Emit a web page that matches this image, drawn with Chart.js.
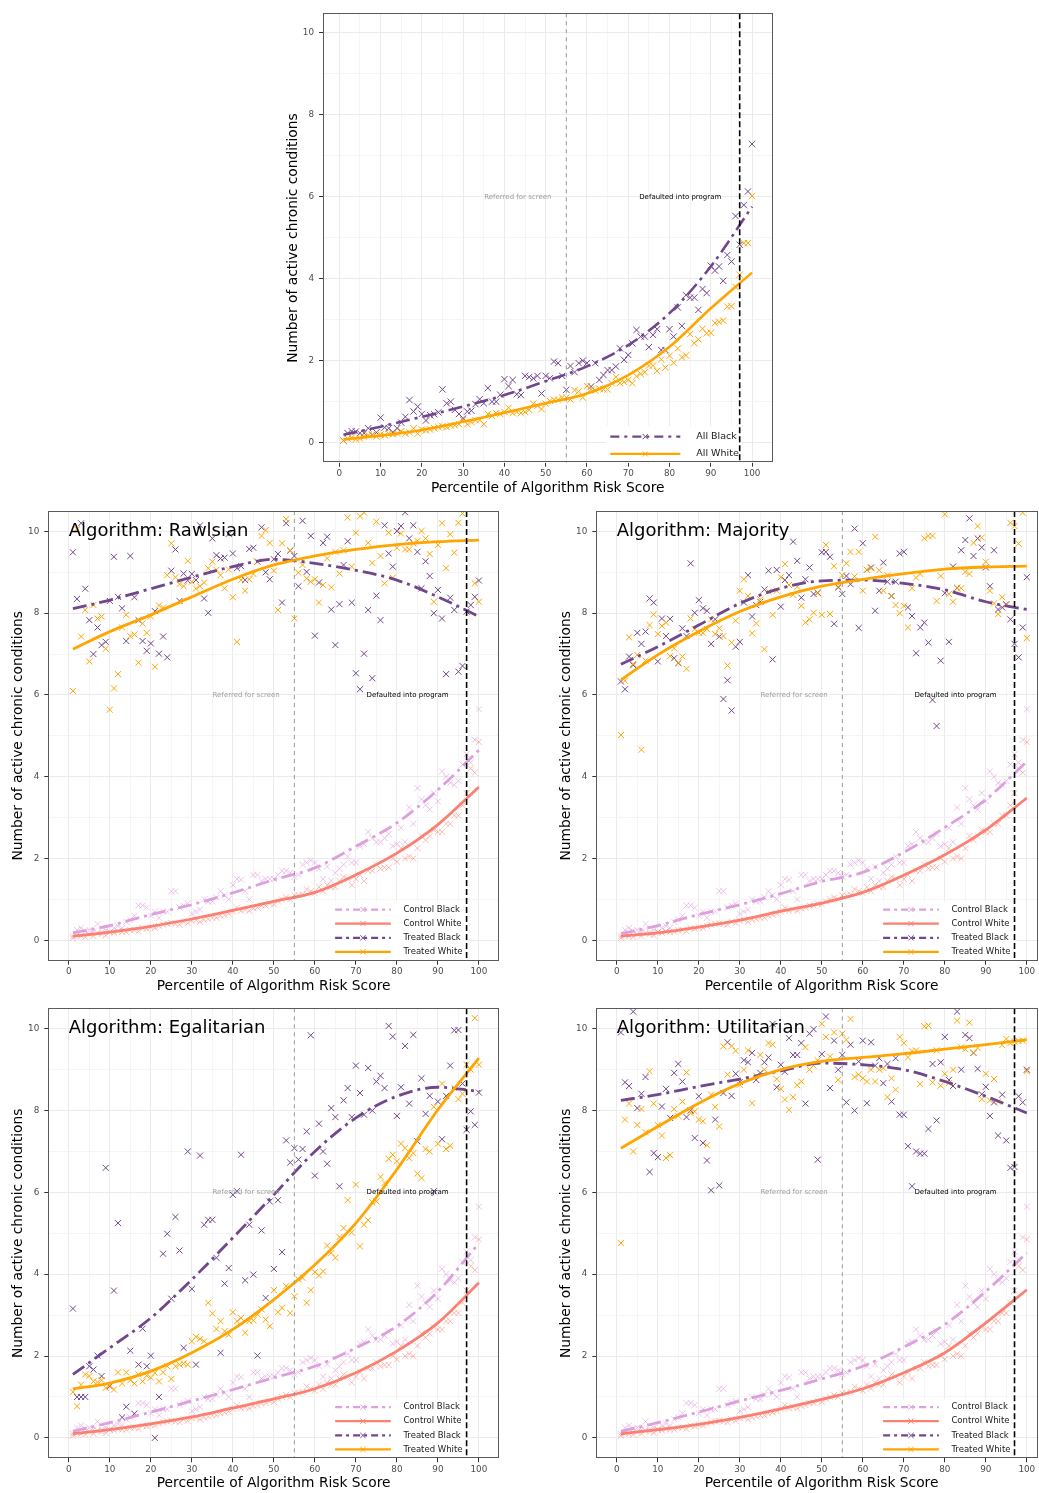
<!DOCTYPE html>
<html>
<head>
<meta charset="utf-8">
<script src="https://cdn.jsdelivr.net/npm/chart.js@4.4.1/dist/chart.umd.min.js"></script>
<style>
  html, body { margin: 0; padding: 0; background: #ffffff; }
  body { width: 1039px; height: 1493px; position: relative; overflow: hidden; }
  canvas { position: absolute; }
</style>
</head>
<body>
<canvas id="pAll" width="520" height="500" style="left:270px;top:0px"></canvas>
<canvas id="pRawls" width="510" height="500" style="left:0px;top:500px"></canvas>
<canvas id="pMaj" width="491" height="500" style="left:548px;top:500px"></canvas>
<canvas id="pEgal" width="510" height="496" style="left:0px;top:997px"></canvas>
<canvas id="pUtil" width="491" height="496" style="left:548px;top:997px"></canvas>
<script>
// ---------------------------------------------------------------------------
// Data: mean number of active chronic conditions by risk-score percentile
// ---------------------------------------------------------------------------
const PERCENTILES = [
  1,2,3,4,5,6,7,8,9,10, 11,12,13,14,15,16,17,18,19,20,
  21,22,23,24,25,26,27,28,29,30, 31,32,33,34,35,36,37,38,39,40,
  41,42,43,44,45,46,47,48,49,50, 51,52,53,54,55,56,57,58,59,60,
  61,62,63,64,65,66,67,68,69,70, 71,72,73,74,75,76,77,78,79,80,
  81,82,83,84,85,86,87,88,89,90, 91,92,93,94,95,96,97,98,99,100
];

const X_TICKS = [0,5,10,15,20,25,30,35,40,45,50,55,60,65,70,75,80,85,90,95,100];
const Y_TICKS = [0,1,2,3,4,5,6,7,8,9,10];

const SCREEN_CUTOFF = 55;   // referred for screening above this percentile
const PROGRAM_CUTOFF = 97;  // defaulted into program above this percentile

// whole population
const ALL_BLACK = [
  0.05,0.23,0.28,0.27,0.23,0.23,0.35,0.19,0.25,0.61,
  0.37,0.35,0.25,0.35,0.49,0.63,1.04,0.76,0.88,0.70,
  0.54,0.67,0.69,0.74,1.30,0.96,1.00,0.80,0.70,0.59,
  0.76,0.78,0.94,1.06,0.96,1.33,1.00,1.00,1.17,1.55,
  1.38,1.53,1.18,1.16,1.63,1.60,1.57,1.63,1.20,1.63,
  1.57,1.98,1.94,1.63,1.29,1.87,1.72,1.94,2.00,1.94,
  1.37,1.94,1.53,1.65,1.77,1.77,1.86,2.30,2.02,2.14,
  2.42,2.75,2.59,2.59,2.33,2.63,2.77,2.26,2.26,2.77,
  2.59,3.30,2.85,3.60,3.54,3.54,3.24,3.75,3.65,4.32,
  4.20,4.30,3.95,4.58,4.42,5.53,4.83,5.80,6.13,7.29
];
const ALL_WHITE = [
  0.05,0.10,0.12,0.08,0.10,0.15,0.18,0.20,0.15,0.20,
  0.18,0.22,0.20,0.22,0.28,0.22,0.25,0.35,0.22,0.32,
  0.30,0.32,0.35,0.38,0.40,0.38,0.42,0.42,0.45,0.55,
  0.45,0.50,0.55,0.55,0.45,0.70,0.65,0.72,0.70,0.75,
  0.85,0.72,0.75,0.72,0.75,0.80,0.95,0.90,0.82,0.95,
  1.02,1.05,1.05,1.10,1.10,1.05,1.28,1.25,1.10,1.38,
  1.30,1.27,1.32,1.30,1.30,1.45,1.60,1.45,1.48,1.53,
  1.45,1.62,1.68,1.72,1.88,1.88,1.75,2.03,1.83,2.12,
  1.95,2.30,2.08,2.13,2.65,2.43,2.52,2.78,2.67,2.68,
  2.92,2.95,2.98,3.32,3.33,3.80,4.10,4.87,4.87,6.02
];

// control arm (not enrolled)
const CONTROL_BLACK = [
  0.10,0.25,0.30,0.22,0.25,0.20,0.40,0.20,0.25,0.20,
  0.30,0.35,0.30,0.45,0.50,0.60,0.85,0.85,0.80,0.60,
  0.70,0.55,0.70,0.70,1.20,1.20,0.80,0.85,0.90,0.65,
  0.70,0.75,1.00,0.95,0.95,1.05,1.20,1.10,1.00,1.35,
  1.50,1.48,1.20,1.00,1.60,1.60,1.45,1.50,1.50,1.50,
  1.60,1.70,1.70,1.65,1.55,1.60,1.85,1.90,1.95,1.90,
  1.75,1.50,1.80,1.45,1.65,1.75,1.85,2.05,1.90,1.90,
  2.30,2.35,2.65,2.50,2.40,2.40,2.50,2.60,2.30,2.35,
  2.75,2.40,3.25,2.85,3.72,3.45,3.30,3.20,3.60,3.40,
  4.13,4.00,3.85,3.80,3.90,4.30,4.55,4.35,4.90,5.65
];
const CONTROL_WHITE = [
  0.05,0.12,0.10,0.08,0.15,0.10,0.18,0.15,0.12,0.20,
  0.18,0.22,0.20,0.20,0.25,0.25,0.22,0.30,0.28,0.32,
  0.30,0.35,0.38,0.40,0.42,0.40,0.38,0.45,0.42,0.48,
  0.50,0.45,0.50,0.52,0.55,0.55,0.60,0.62,0.65,0.70,
  0.80,0.72,0.75,0.72,0.78,0.80,0.85,0.85,0.90,0.88,
  0.95,1.00,1.05,1.00,1.10,1.10,1.12,1.25,1.20,1.15,
  1.30,1.20,1.35,1.30,1.30,1.45,1.55,1.50,1.35,1.50,
  1.60,1.45,1.70,1.70,1.85,1.75,1.78,1.78,2.00,1.92,
  2.25,2.00,2.05,2.00,2.25,2.55,2.45,2.55,2.70,2.65,
  2.65,2.85,2.85,3.05,3.05,3.30,3.60,4.20,4.10,4.85
];

// treated arm, by allocation algorithm
const RAWLS_TREATED_BLACK = [
  9.49,8.35,10.20,8.60,7.83,7.00,7.65,7.22,7.30,8.30,
  9.38,8.40,8.12,7.32,9.40,8.39,7.83,7.32,7.08,7.26,
  8.05,7.01,7.43,6.92,9.04,9.56,8.30,8.97,8.80,8.96,
  8.81,10.15,8.36,8.01,9.83,9.42,9.34,9.36,9.94,9.46,
  9.10,9.15,8.81,9.57,9.60,9.26,10.10,9.00,8.83,9.32,
  9.45,8.26,10.20,9.53,9.40,8.66,10.26,9.01,9.89,7.45,
  8.75,9.72,9.87,8.09,7.22,8.22,9.18,9.76,8.26,6.53,
  6.14,7.01,8.08,6.41,8.43,7.83,10.15,9.46,9.14,10.01,
  10.13,10.47,9.83,10.15,9.50,8.61,9.27,8.91,8.00,8.57,
  7.87,6.51,8.38,8.08,6.57,6.71,8.04,8.20,8.40,8.80
];
const RAWLS_TREATED_WHITE = [
  6.10,10.05,7.43,8.08,6.82,8.20,7.87,7.92,7.13,5.64,
  6.16,6.51,7.65,7.96,7.44,7.48,6.79,7.75,7.52,7.92,
  6.69,8.19,8.14,8.93,9.71,8.88,8.71,8.66,9.28,8.77,
  8.60,8.66,8.75,9.10,9.26,9.06,8.93,8.61,9.07,8.39,
  7.30,8.81,8.55,8.83,8.96,9.26,9.89,10.03,9.72,9.04,
  8.08,9.71,10.30,9.54,7.87,8.99,9.18,8.85,8.77,8.83,
  8.26,8.69,9.34,8.63,9.50,8.97,9.54,10.34,9.14,9.97,
  10.37,10.46,9.72,9.23,10.24,9.40,8.73,9.97,8.87,9.60,
  9.95,9.56,9.56,9.71,9.77,10.01,9.83,9.45,8.28,9.67,
  10.20,9.10,9.93,9.48,10.21,10.44,10.80,10.90,8.73,8.28
];
const MAJORITY_TREATED_BLACK = [
  6.33,6.14,6.94,6.73,7.52,7.25,7.55,8.36,8.26,6.82,
  7.87,7.44,7.86,6.90,6.78,7.63,7.44,9.22,8.01,8.32,
  8.12,8.06,7.25,7.85,7.43,5.90,6.36,5.62,7.18,7.30,
  8.26,8.93,7.92,8.20,8.28,8.58,9.04,6.87,9.06,8.16,
  8.81,8.93,9.75,9.28,8.38,8.83,9.12,8.47,8.50,9.49,
  9.50,9.38,7.74,8.63,8.47,8.91,8.71,10.07,7.64,9.71,
  9.06,9.12,8.06,8.55,9.24,8.77,8.42,8.77,9.46,9.50,
  8.14,7.93,7.02,7.65,7.77,7.28,5.88,5.24,6.84,8.49,
  7.30,9.14,8.62,9.54,9.79,10.32,9.40,9.83,9.61,9.12,
  8.66,9.54,8.09,8.14,8.22,7.85,7.25,6.92,7.65,8.88
];
const MAJORITY_TREATED_WHITE = [
  5.02,6.35,7.41,6.76,6.98,4.66,6.84,7.71,7.97,7.49,
  7.69,7.77,6.95,7.14,6.79,6.94,6.64,7.87,7.61,7.52,
  7.52,7.61,7.85,7.49,7.63,7.44,6.72,7.28,7.82,8.55,
  8.83,8.42,7.51,7.75,8.34,7.12,8.53,7.96,8.55,8.88,
  9.20,8.69,8.45,8.65,8.18,7.77,7.85,8.01,8.49,7.96,
  9.67,7.98,9.15,8.65,8.93,9.22,9.50,8.90,9.50,8.55,
  9.06,9.10,9.87,9.05,8.55,8.93,8.42,8.20,8.00,8.18,
  7.65,8.61,8.87,8.96,9.83,9.89,9.89,8.30,8.91,10.42,
  8.47,8.28,8.61,8.61,9.01,8.96,9.72,10.13,9.85,9.26,
  8.55,8.24,7.98,8.39,8.20,10.21,10.13,9.70,10.46,7.39
];
const EGAL_TREATED_BLACK = [
  3.16,1.00,1.00,1.00,1.75,1.67,2.01,1.51,6.60,1.26,
  3.60,5.25,0.50,0.76,2.13,0.59,1.79,2.67,1.75,2.01,
  0.00,1.00,4.50,4.99,3.40,5.40,4.58,2.20,7.00,3.64,
  1.79,6.90,5.21,5.33,5.33,4.40,2.08,3.77,4.15,5.94,
  6.03,6.92,3.85,5.21,3.99,2.01,5.07,3.42,5.78,4.13,
  5.81,4.54,7.27,6.73,7.08,6.80,7.06,7.49,9.84,6.41,
  7.68,7.00,6.70,8.06,7.84,6.15,8.25,8.55,7.84,9.10,
  8.43,7.90,9.04,8.00,8.71,8.85,8.55,10.07,9.81,7.87,
  8.57,9.58,8.17,9.85,7.25,8.79,7.92,8.36,6.03,8.22,
  7.30,8.36,9.10,9.96,9.97,8.66,7.53,7.98,7.65,8.44
];
const EGAL_TREATED_WHITE = [
  1.12,0.77,1.30,1.55,1.51,1.38,1.36,1.41,1.22,1.28,
  1.18,1.60,1.33,1.60,1.41,1.33,1.55,1.38,1.52,1.47,
  1.59,1.38,1.60,1.75,1.44,1.75,1.79,1.82,1.79,2.36,
  2.47,2.42,2.36,3.30,3.04,2.66,2.85,2.61,2.52,3.07,
  2.85,2.93,2.57,2.85,2.87,3.01,3.14,2.89,2.73,3.61,
  3.07,3.18,3.71,3.05,3.46,3.87,3.91,3.30,3.61,4.05,
  3.97,4.07,4.70,4.52,4.40,4.91,5.13,5.81,5.02,6.19,
  4.68,5.21,5.32,5.76,5.78,6.38,6.23,6.82,6.92,6.76,
  7.19,7.08,6.84,6.96,6.46,6.35,7.06,7.00,8.09,7.19,
  8.66,7.06,7.14,8.55,8.28,8.41,9.12,9.00,10.26,9.12
];
const UTIL_TREATED_BLACK = [
  9.91,8.69,8.60,10.42,8.06,8.41,8.82,6.50,6.96,6.86,
  8.10,8.53,7.82,8.92,9.14,8.71,7.84,8.00,7.33,8.35,
  7.21,6.78,6.05,7.78,6.17,8.43,9.67,8.36,8.90,8.70,
  9.23,9.18,9.41,8.75,8.92,9.18,9.30,10.12,8.57,9.12,
  8.95,9.77,9.36,9.36,9.65,8.17,9.88,9.99,6.80,9.38,
  10.30,8.55,9.71,9.00,9.36,8.20,9.61,8.00,9.20,9.71,
  8.18,9.67,9.10,9.28,8.67,9.14,8.22,9.28,7.90,7.90,
  7.13,6.15,7.00,6.95,6.95,7.55,9.14,7.76,9.18,9.80,
  8.75,8.60,10.42,9.00,9.85,9.77,9.41,9.02,8.40,8.58,
  7.87,8.20,7.39,8.39,7.27,6.60,6.62,8.35,8.20,9.00
];
const UTIL_TREATED_WHITE = [
  4.76,7.78,8.17,7.00,7.65,8.04,7.47,8.96,8.17,7.65,
  7.39,6.84,6.91,8.04,7.87,8.22,8.93,7.94,7.98,7.78,
  7.74,7.15,8.39,8.09,7.61,9.57,8.88,9.58,9.46,8.63,
  9.00,9.47,8.18,8.85,9.36,9.00,9.65,9.61,8.77,8.53,
  8.27,8.02,8.33,8.62,8.71,9.55,9.00,9.10,9.23,10.12,
  9.80,9.32,9.91,8.75,9.88,9.73,10.24,8.82,8.88,8.79,
  8.71,9.00,8.71,9.00,9.04,8.33,8.79,8.51,9.80,9.65,
  9.30,9.45,9.47,8.65,10.06,10.08,8.69,9.47,8.61,8.90,
  8.67,9.00,10.20,9.55,9.50,10.15,9.42,9.53,8.28,8.90,
  8.25,8.77,8.22,9.60,9.75,9.65,9.68,9.70,9.71,8.96
];

// smoothed fits, sampled at these percentiles
const FIT_X = [1,10,20,30,40,50,60,70,80,90,100];

const ALL_BLACK_FIT = [0.19,0.39,0.63,0.88,1.16,1.50,1.86,2.38,3.16,4.30,5.76];
const ALL_WHITE_FIT = [0.08,0.17,0.31,0.51,0.73,0.96,1.20,1.65,2.34,3.28,4.15];

const RAWLS_FIT_CONTROL_BLACK = [0.18,0.36,0.63,0.87,1.16,1.48,1.77,2.30,2.87,3.68,4.65];
const RAWLS_FIT_CONTROL_WHITE = [0.10,0.20,0.34,0.52,0.73,0.95,1.17,1.60,2.13,2.83,3.75];
const RAWLS_FIT_TREATED_BLACK = [8.11,8.32,8.60,8.88,9.14,9.32,9.22,9.05,8.81,8.40,7.92];
const RAWLS_FIT_TREATED_WHITE = [7.12,7.55,7.96,8.40,8.83,9.18,9.40,9.56,9.68,9.75,9.79];

const MAJORITY_FIT_CONTROL_BLACK = [0.16,0.36,0.63,0.87,1.14,1.44,1.66,2.15,2.76,3.44,4.37];
const MAJORITY_FIT_CONTROL_WHITE = [0.10,0.18,0.32,0.49,0.71,0.91,1.17,1.59,2.09,2.70,3.48];
const MAJORITY_FIT_TREATED_BLACK = [6.75,7.18,7.71,8.24,8.61,8.79,8.81,8.73,8.57,8.28,8.09];
const MAJORITY_FIT_TREATED_WHITE = [6.37,6.98,7.55,8.04,8.40,8.66,8.83,8.97,9.08,9.13,9.15];

const EGAL_FIT_CONTROL_BLACK = [0.16,0.37,0.63,0.90,1.18,1.47,1.75,2.20,2.73,3.58,4.76];
const EGAL_FIT_CONTROL_WHITE = [0.10,0.20,0.34,0.51,0.73,0.95,1.20,1.59,2.12,2.81,3.79];
const EGAL_FIT_TREATED_BLACK = [1.55,2.20,2.93,3.87,4.89,5.94,7.00,7.82,8.35,8.57,8.47];
const EGAL_FIT_TREATED_WHITE = [1.20,1.34,1.63,2.08,2.65,3.38,4.23,5.25,6.56,8.02,9.28];

const UTIL_FIT_CONTROL_BLACK = [0.16,0.37,0.63,0.90,1.16,1.44,1.75,2.22,2.77,3.58,4.52];
const UTIL_FIT_CONTROL_WHITE = [0.10,0.20,0.33,0.50,0.71,0.94,1.20,1.59,2.08,2.81,3.62];
const UTIL_FIT_TREATED_BLACK = [8.25,8.39,8.59,8.77,8.97,9.16,9.12,9.00,8.71,8.35,7.94];
const UTIL_FIT_TREATED_WHITE = [7.08,7.61,8.18,8.66,9.00,9.20,9.30,9.39,9.50,9.61,9.73];

// ---------------------------------------------------------------------------
// Styling
// ---------------------------------------------------------------------------
const FONT = '"DejaVu Sans", "Liberation Sans", sans-serif';
const PURPLE = '#70468C';
const ORANGE = '#FFA500';
const PLUM = '#DDA0DD';
const SALMON = '#FA8072';
const PLUM_PT = 'rgba(221,160,221,0.6)';
const SALMON_PT = 'rgba(250,128,114,0.5)';
const DOTDASH = [14, 5, 3, 5];

function points(xs, ys, color, order, radius) {
  return {
    type: 'scatter',
    data: xs.map((x, i) => ({ x: x, y: ys[i] })),
    pointStyle: 'crossRot',
    pointRadius: radius,
    pointBorderWidth: 1,
    pointBorderColor: color,
    pointBackgroundColor: 'rgba(0,0,0,0)',
    showLine: false,
    order: order
  };
}

function fit(ys, color, dash, order, width) {
  return {
    type: 'line',
    data: FIT_X.map((x, i) => ({ x: x, y: ys[i] })),
    borderColor: color,
    borderWidth: width,
    borderDash: dash,
    borderCapStyle: 'butt',
    borderJoinStyle: 'round',
    cubicInterpolationMode: 'monotone',
    pointRadius: 0,
    fill: false,
    order: order
  };
}

function noPadding(s) {
  s.paddingLeft = 0; s.paddingRight = 0; s.paddingTop = 0; s.paddingBottom = 0;
}

function xScale(g) {
  return {
    type: 'linear',
    min: g.xMin, max: g.xMax,
    afterBuildTicks: s => { s.ticks = X_TICKS.map(v => ({ value: v })); },
    afterFit: s => { s.height = g.xAxisH; noPadding(s); },
    border: { display: false },
    grid: {
      color: c => (c.tick && c.tick.value % 10 === 0) ? '#EBEBEB' : '#F3F3F3',
      lineWidth: c => (c.tick && c.tick.value % 10 === 0) ? 1 : 0.8,
      tickColor: c => (c.tick && c.tick.value % 10 === 0) ? '#333333' : 'rgba(0,0,0,0)',
      tickLength: 4,
      drawTicks: true
    },
    ticks: {
      autoSkip: false, maxRotation: 0, padding: 2,
      color: '#4D4D4D',
      font: { family: FONT, size: 8.8 },
      callback: v => (v % 10 === 0 ? String(v) : '')
    }
  };
}

function yScale(g) {
  return {
    type: 'linear',
    min: g.yMin, max: g.yMax,
    afterBuildTicks: s => { s.ticks = Y_TICKS.map(v => ({ value: v })); },
    afterFit: s => { s.width = g.yAxisW; noPadding(s); },
    border: { display: false },
    grid: {
      color: c => (c.tick && c.tick.value % 2 === 0) ? '#EBEBEB' : '#F3F3F3',
      lineWidth: c => (c.tick && c.tick.value % 2 === 0) ? 1 : 0.8,
      tickColor: c => (c.tick && c.tick.value % 2 === 0) ? '#333333' : 'rgba(0,0,0,0)',
      tickLength: 4,
      drawTicks: true
    },
    ticks: {
      autoSkip: false, padding: 5,
      color: '#4D4D4D',
      font: { family: FONT, size: 8.8 },
      callback: v => (v % 2 === 0 ? String(v) : '')
    }
  };
}

function vline(ctx, px, a, color, width, dash) {
  ctx.save();
  ctx.strokeStyle = color;
  ctx.lineWidth = width;
  ctx.setLineDash(dash);
  ctx.beginPath();
  ctx.moveTo(px, a.top);
  ctx.lineTo(px, a.bottom);
  ctx.stroke();
  ctx.restore();
}

function legendKey(ctx, x1, x2, yy, item) {
  ctx.save();
  ctx.strokeStyle = item.color;
  ctx.lineWidth = 2.2;
  ctx.lineCap = 'butt';
  ctx.setLineDash(item.dash);
  ctx.beginPath();
  ctx.moveTo(x1, yy);
  ctx.lineTo(x2, yy);
  ctx.stroke();
  ctx.setLineDash([]);
  ctx.lineWidth = 1;
  ctx.strokeStyle = item.marker;
  const m = (x1 + x2) / 2, r = 2.6;
  ctx.beginPath();
  ctx.moveTo(m - r, yy - r); ctx.lineTo(m + r, yy + r);
  ctx.moveTo(m - r, yy + r); ctx.lineTo(m + r, yy - r);
  ctx.stroke();
  ctx.restore();
}

function decor(g, panel) {
  return {
    id: 'decor',
    afterDatasetsDraw(chart) {
      const { ctx, chartArea: a, scales: { x, y } } = chart;
      const x0 = x.getPixelForValue(0), y0 = y.getPixelForValue(0);
      const xProg = x.getPixelForValue(PROGRAM_CUTOFF);
      ctx.save();
      ctx.beginPath();
      ctx.rect(a.left, a.top, a.right - a.left, a.bottom - a.top);
      ctx.clip();

      // cutoff annotations
      ctx.font = '7px ' + FONT;
      ctx.textAlign = 'center';
      ctx.textBaseline = 'middle';
      ctx.fillStyle = '#9E9E9E';
      ctx.fillText('Referred for screen', x.getPixelForValue(43.25), y.getPixelForValue(6));
      ctx.fillStyle = '#000000';
      ctx.fillText('Defaulted into program', x.getPixelForValue(82.6), y.getPixelForValue(6));

      // panel heading
      if (panel.title) {
        ctx.font = '18px ' + FONT;
        ctx.textAlign = 'left';
        ctx.fillStyle = '#000000';
        ctx.fillText(panel.title, x0, y.getPixelForValue(10));
      }

      // legend
      const L = g.legend;
      ctx.fillStyle = '#FFFFFF';
      ctx.fillRect(x0 + L.bgLeft, y0 + L.bgTop, xProg - 1.2 - (x0 + L.bgLeft), a.bottom - 0.5 - (y0 + L.bgTop));
      panel.legend.forEach((item, i) => {
        const yy = y0 + L.rows[i];
        legendKey(ctx, x0 + L.keyStart, x0 + L.keyEnd, yy, item);
        ctx.font = L.font + 'px ' + FONT;
        ctx.textAlign = 'left';
        ctx.textBaseline = 'middle';
        ctx.fillStyle = '#1A1A1A';
        ctx.fillText(item.label, x0 + L.textX, yy);
      });

      // screening / program cutoffs
      vline(ctx, x.getPixelForValue(SCREEN_CUTOFF), a, '#9A9A9A', 1, [4, 4]);
      vline(ctx, xProg, a, '#000000', 1.6, [6, 3]);
      ctx.restore();

      // panel border
      ctx.save();
      ctx.strokeStyle = '#5A5A5A';
      ctx.lineWidth = 1;
      ctx.strokeRect(Math.round(a.left) + 0.5, Math.round(a.top) + 0.5,
                     Math.round(a.right - a.left) - 1, Math.round(a.bottom - a.top) - 1);
      ctx.restore();
    },
    afterDraw(chart) {
      const { ctx, chartArea: a } = chart;
      ctx.save();
      ctx.fillStyle = '#000000';
      ctx.font = '13.8px ' + FONT;
      ctx.textAlign = 'center';
      ctx.textBaseline = 'middle';
      ctx.fillText('Percentile of Algorithm Risk Score', (a.left + a.right) / 2 + g.xTitleShift, g.xTitleY);
      ctx.translate(g.yTitleX, (a.top + a.bottom) / 2);
      ctx.rotate(-Math.PI / 2);
      ctx.fillText('Number of active chronic conditions', 0, 0);
      ctx.restore();
    }
  };
}

function build(id, g, panel) {
  return new Chart(document.getElementById(id), {
    type: 'scatter',
    data: { datasets: panel.datasets },
    options: {
      responsive: false,
      animation: false,
      devicePixelRatio: 1,
      events: [],
      layout: { autoPadding: false, padding: { left: 0, top: g.padTop, right: g.padRight, bottom: 0 } },
      plugins: { legend: { display: false }, tooltip: { enabled: false } },
      scales: { x: xScale(g), y: yScale(g) }
    },
    plugins: [decor(g, panel)]
  });
}

// ---------------------------------------------------------------------------
// Panel geometry
// ---------------------------------------------------------------------------
const BOTTOM_LEGEND = { keyStart: 266.3, keyEnd: 322, textX: 334.6, rows: [-30.7, -16.7, -2.4, 11.6],
                        bgLeft: 262, bgTop: -38.5, font: 8.5 };
const G_ALL = { padTop: 13.3, padRight: 17.5, yAxisW: 53, xAxisH: 37.3,
                xMin: -3.95, xMax: 104.95, yMin: -0.49, yMax: 10.48,
                yTitleX: 23, xTitleY: 488.3, xTitleShift: 0,
                legend: { keyStart: 271, keyEnd: 341, textX: 357, rows: [-6, 11.3],
                          bgLeft: 267, bgTop: -16.5, font: 9.5 } };
const G_LEFT_MID = { padTop: 11, padRight: 11, yAxisW: 48.3, xAxisH: 39.3,
                     xMin: -5, xMax: 104.9, yMin: -0.5, yMax: 10.5,
                     yTitleX: 18.3, xTitleY: 486.7, xTitleShift: 0, legend: BOTTOM_LEGEND };
const G_RIGHT_MID = { padTop: 11, padRight: 0.7, yAxisW: 48.3, xAxisH: 39.3,
                      xMin: -5, xMax: 102.8, yMin: -0.5, yMax: 10.5,
                      yTitleX: 18.5, xTitleY: 486.7, xTitleShift: 4.3, legend: BOTTOM_LEGEND };
const G_LEFT_LOW = Object.assign({}, G_LEFT_MID, { padTop: 11.3, xAxisH: 34.7, xTitleY: 486.3 });
const G_RIGHT_LOW = Object.assign({}, G_RIGHT_MID, { padTop: 11.3, xAxisH: 34.7, xTitleY: 486.3 });

const ARM_LEGEND = [
  { label: 'Control Black', color: PLUM, dash: [7, 4, 3, 4], marker: PLUM },
  { label: 'Control White', color: SALMON, dash: [], marker: SALMON },
  { label: 'Treated Black', color: PURPLE, dash: [7, 4, 3, 4], marker: PURPLE },
  { label: 'Treated White', color: ORANGE, dash: [], marker: ORANGE }
];

function armPanel(title, tb, tw, fitCB, fitCW, fitTB, fitTW) {
  return {
    title: title,
    legend: ARM_LEGEND,
    datasets: [
      fit(fitTW, ORANGE, [], 1, 2.8),
      fit(fitTB, PURPLE, DOTDASH, 2, 2.8),
      fit(fitCW, SALMON, [], 3, 2.8),
      fit(fitCB, PLUM, DOTDASH, 4, 2.8),
      points(PERCENTILES, tw, ORANGE, 11, 4.3),
      points(PERCENTILES, tb, PURPLE, 12, 4.3),
      points(PERCENTILES, CONTROL_WHITE, SALMON_PT, 13, 4.3),
      points(PERCENTILES, CONTROL_BLACK, PLUM_PT, 14, 4.3)
    ]
  };
}

build('pAll', G_ALL, {
  title: null,
  legend: [
    { label: 'All Black', color: PURPLE, dash: [9, 5, 3, 5], marker: PURPLE },
    { label: 'All White', color: ORANGE, dash: [], marker: ORANGE }
  ],
  datasets: [
    fit(ALL_WHITE_FIT, ORANGE, [], 1, 2.6),
    fit(ALL_BLACK_FIT, PURPLE, DOTDASH, 2, 2.6),
    points(PERCENTILES, ALL_WHITE, ORANGE, 11, 4.5),
    points(PERCENTILES, ALL_BLACK, PURPLE, 12, 4.5)
  ]
});

build('pRawls', G_LEFT_MID, armPanel('Algorithm: Rawlsian',
  RAWLS_TREATED_BLACK, RAWLS_TREATED_WHITE,
  RAWLS_FIT_CONTROL_BLACK, RAWLS_FIT_CONTROL_WHITE, RAWLS_FIT_TREATED_BLACK, RAWLS_FIT_TREATED_WHITE));

build('pMaj', G_RIGHT_MID, armPanel('Algorithm: Majority',
  MAJORITY_TREATED_BLACK, MAJORITY_TREATED_WHITE,
  MAJORITY_FIT_CONTROL_BLACK, MAJORITY_FIT_CONTROL_WHITE, MAJORITY_FIT_TREATED_BLACK, MAJORITY_FIT_TREATED_WHITE));

build('pEgal', G_LEFT_LOW, armPanel('Algorithm: Egalitarian',
  EGAL_TREATED_BLACK, EGAL_TREATED_WHITE,
  EGAL_FIT_CONTROL_BLACK, EGAL_FIT_CONTROL_WHITE, EGAL_FIT_TREATED_BLACK, EGAL_FIT_TREATED_WHITE));

build('pUtil', G_RIGHT_LOW, armPanel('Algorithm: Utilitarian',
  UTIL_TREATED_BLACK, UTIL_TREATED_WHITE,
  UTIL_FIT_CONTROL_BLACK, UTIL_FIT_CONTROL_WHITE, UTIL_FIT_TREATED_BLACK, UTIL_FIT_TREATED_WHITE));
</script>
</body>
</html>
